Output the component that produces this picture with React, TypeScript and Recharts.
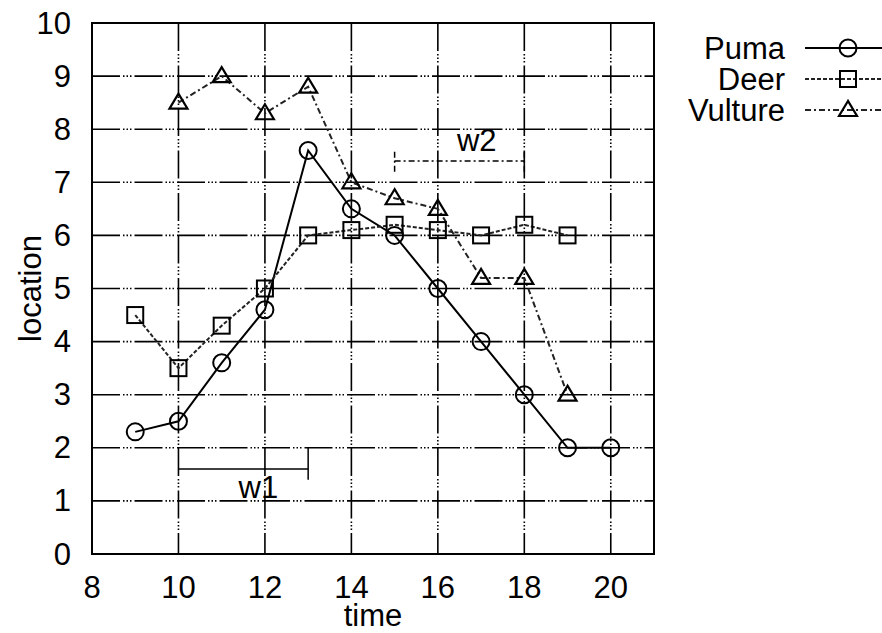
import {
  LineChart,
  Line,
  XAxis,
  YAxis,
  CartesianGrid,
  ReferenceArea,
  ReferenceLine,
  ReferenceDot,
  Legend,
} from 'recharts'

// readings taken off the plot
const time = [9, 10, 11, 12, 13, 14, 15, 16, 17, 18, 19, 20]
const puma = [2.3, 2.5, 3.6, 4.6, 7.6, 6.5, 6.0, 5.0, 4.0, 3.0, 2.0, 2.0]
const deer = [4.5, 3.5, 4.3, 5.0, 6.0, 6.1, 6.2, 6.1, 6.0, 6.2, 6.0, null]
const vulture = [null, 8.5, 9.0, 8.3, 8.8, 7.0, 6.7, 6.5, 5.2, 5.2, 3.0, null]

const xTicks = [8, 10, 12, 14, 16, 18, 20]
const yTicks = [0, 1, 2, 3, 4, 5, 6, 7, 8, 9, 10]

// window brackets: [start, end, level, tickLow, tickHigh]
const w1 = [10, 13, 1.6, 1.4, 2.0]
const w2 = [15, 18, 7.4, 7.2, 7.6]
const w1Label = [11.85, 1.26]
const w2Label = [16.9, 7.8]

const data = time.map((t, i) => ({
  t,
  puma: puma[i],
  deer: deer[i] ?? undefined,
  vulture: vulture[i] ?? undefined,
}))

const FONT = '"Liberation Sans", Arial, Helvetica, sans-serif'
const FS = 31

type Shape = 'circle' | 'square' | 'triangle'

const series: { key: string; name: string; shape: Shape; dash?: string; color: string }[] = [
  { key: 'puma', name: 'Puma', shape: 'circle', color: '#000' },
  { key: 'deer', name: 'Deer', shape: 'square', dash: '4 2', color: '#222' },
  { key: 'vulture', name: 'Vulture', shape: 'triangle', dash: '6 3 2 3', color: '#222' },
]

function Marker({ shape, cx, cy }: { shape: Shape; cx: number; cy: number }) {
  if (shape === 'circle') return <circle cx={cx} cy={cy} r={8.5} fill="none" stroke="#000" strokeWidth={2} />
  if (shape === 'square')
    return <rect x={cx - 8} y={cy - 8} width={16} height={16} fill="none" stroke="#000" strokeWidth={2} />
  return (
    <polygon
      points={`${cx},${cy - 9} ${cx - 9},${cy + 6} ${cx + 9},${cy + 6}`}
      fill="none"
      stroke="#000"
      strokeWidth={2.2}
    />
  )
}

const makeDot = (shape: Shape) => (props: any) => {
  const { cx, cy, index } = props
  if (cx == null || cy == null || props.value == null) return <g key={`${shape}-${index}`} />
  return (
    <g key={`${shape}-${index}`}>
      <Marker shape={shape} cx={cx} cy={cy} />
    </g>
  )
}

const XTick = ({ x, y, payload }: any) => (
  <text x={x} y={y + 33} textAnchor="middle" dominantBaseline="central" fontSize={FS} fontFamily={FONT} fill="#000">
    {payload.value}
  </text>
)

const YTick = ({ x, y, payload }: any) => (
  <text x={x - 21} y={y} textAnchor="end" dominantBaseline="central" fontSize={FS} fontFamily={FONT} fill="#000">
    {payload.value}
  </text>
)

const renderLegend = () => (
  <svg width={242} height={110} style={{ display: 'block' }}>
    {series.map((s, i) => {
      const y = 18 + i * 31
      return (
        <g key={s.key}>
          <text x={145} y={y} textAnchor="end" dominantBaseline="central" fontSize={FS} fontFamily={FONT} fill="#000">
            {s.name}
          </text>
          <line x1={165} x2={262} y1={y} y2={y} stroke={s.color} strokeWidth={2} strokeDasharray={s.dash} />
          <Marker shape={s.shape} cx={208} cy={y} />
        </g>
      )
    })}
  </svg>
)

const labelStyle = { fontSize: FS, fontFamily: FONT, fill: '#000' }

export default function App() {
  return (
    <div style={{ width: 882, height: 633, background: '#fff', position: 'relative' }}>
      <style>{'body{margin:0;background:#fff}'}</style>
      <LineChart width={882} height={633} data={data} margin={{ top: 23, right: 228, bottom: 0, left: 0 }}>
        <CartesianGrid stroke="#000" strokeWidth={1.6} strokeDasharray="28 3 1.5 2 1.5 2 1.5 3" />
        <XAxis
          dataKey="t"
          type="number"
          domain={[8, 21]}
          ticks={xTicks}
          interval={0}
          height={79}
          tickSize={0}
          tickMargin={0}
          axisLine={false}
          tickLine={false}
          tick={<XTick />}
          label={{ value: 'time', position: 'insideBottom', offset: 7, ...labelStyle }}
        />
        <YAxis
          type="number"
          domain={[0, 10]}
          ticks={yTicks}
          interval={0}
          width={92}
          tickSize={0}
          tickMargin={0}
          axisLine={false}
          tickLine={false}
          tick={<YTick />}
          label={{
            content: ({ viewBox }: any) => {
              const cx = 30
              const cy = viewBox.y + viewBox.height / 2
              return (
                <text
                  x={cx}
                  y={cy}
                  transform={`rotate(-90 ${cx} ${cy})`}
                  textAnchor="middle"
                  dominantBaseline="central"
                  fontSize={FS}
                  fontFamily={FONT}
                  fill="#000"
                >
                  location
                </text>
              )
            },
          }}
        />
        <ReferenceArea x1={8} x2={21} y1={0} y2={10} fill="none" stroke="#000" strokeWidth={2} />

        <ReferenceLine segment={[{ x: w1[0], y: w1[2] }, { x: w1[1], y: w1[2] }]} stroke="#000" strokeWidth={1.5} />
        <ReferenceLine segment={[{ x: w1[1], y: w1[3] }, { x: w1[1], y: w1[4] }]} stroke="#000" strokeWidth={1.5} />
        <ReferenceLine
          segment={[{ x: w2[0], y: w2[2] }, { x: w2[1], y: w2[2] }]}
          stroke="#000"
          strokeWidth={1.5}
          strokeDasharray="6 3 2 3"
        />
        <ReferenceLine
          segment={[{ x: w2[0], y: w2[3] }, { x: w2[0], y: w2[4] }]}
          stroke="#000"
          strokeWidth={1.5}
          strokeDasharray="6 3 2 3"
        />
        <ReferenceLine
          segment={[{ x: w2[1], y: w2[3] }, { x: w2[1], y: w2[4] }]}
          stroke="#000"
          strokeWidth={1.5}
          strokeDasharray="6 3 2 3"
        />
        <ReferenceDot
          x={w1Label[0]}
          y={w1Label[1]}
          r={1}
          fill="none"
          stroke="none"
          label={{ value: 'w1', position: 'center', ...labelStyle }}
        />
        <ReferenceDot
          x={w2Label[0]}
          y={w2Label[1]}
          r={1}
          fill="none"
          stroke="none"
          label={{ value: 'w2', position: 'center', ...labelStyle }}
        />

        {series.map((s) => (
          <Line
            key={s.key}
            dataKey={s.key}
            name={s.name}
            type="linear"
            stroke={s.color}
            strokeWidth={2}
            strokeDasharray={s.dash}
            dot={makeDot(s.shape)}
            activeDot={false}
            isAnimationActive={false}
          />
        ))}

        <Legend
          layout="vertical"
          align="center"
          verticalAlign="middle"
          content={renderLegend}
          wrapperStyle={{ left: 640, top: 30, width: 242, height: 110 }}
        />
      </LineChart>
    </div>
  )
}
